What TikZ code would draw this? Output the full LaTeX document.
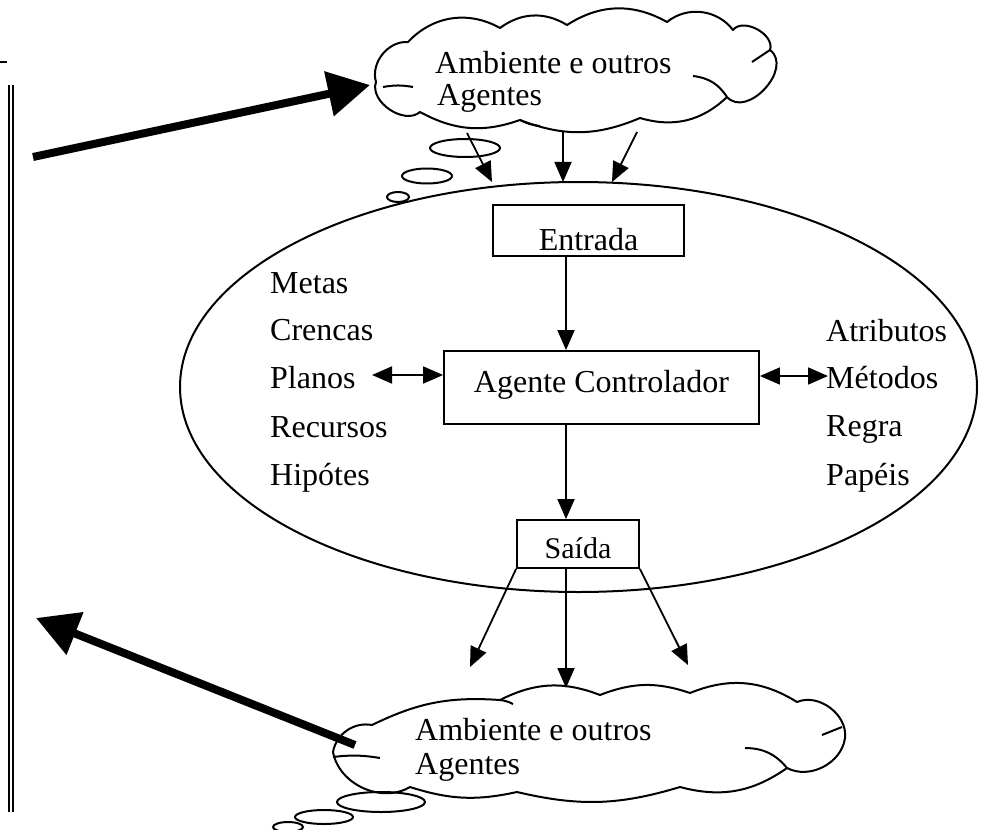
\documentclass[tikz,border=0pt]{standalone}
\usepackage{fontspec}
\setmainfont{Liberation Serif}
\usetikzlibrary{arrows.meta,shapes.geometric,calc}
\begin{document}
\begin{tikzpicture}[x=1pt,y=-1pt,
  txt/.style={anchor=base west,inner sep=0pt,font=\fontsize{32}{36}\selectfont},
  boxn/.style={draw,line width=1.8pt,inner sep=0pt,font=\fontsize{32}{36}\selectfont},
  thin/.style={line width=1.8pt,-{Triangle[length=20pt,width=17pt]}},
  both/.style={line width=1.8pt,{Triangle[length=20pt,width=17pt]}-{Triangle[length=20pt,width=17pt]}},
  big/.style={line width=8pt,-{Triangle[length=42pt,width=44pt]}},
  cloudline/.style={line width=2pt,line join=round},
  puff/.style={bend left=#1},
  bubble/.style={ellipse,draw,line width=2pt,inner sep=0pt}]
\useasboundingbox (0,0) rectangle (984,829);
\fill[white] (0,0) rectangle (984,829);

% small mark top-left and left double rule
\draw[line width=2pt] (0,62) -- (7,62);
\coordinate (rt) at (11,85);
\coordinate (rb) at (11,812);
\draw[double,double distance=2.8pt,line width=1.8pt] (rt) -- (rb);

% big ellipse
\node[ellipse,draw,line width=2pt,minimum width=797pt,minimum height=410pt,inner sep=0pt] (E) at (578.5,387) {};

% top cloud
\node[minimum width=410pt,minimum height=122pt,inner sep=0pt] (c1) at (577,70) {};
\draw[cloudline,fill=white]
  (376,82) to[puff=55] (408,42) to[puff=38] (500,28) to[puff=34] (567,25)
  to[puff=31] (667,22) to[puff=46] (733,30) to[puff=80] (770,50)
  to[puff=95,looseness=1.2] (727,97) to[puff=30] (640,118) to[puff=22] (520,120)
  to[puff=24] (420,112) to[puff=75] (376,82);
\draw[cloudline] (383,87) to[bend left=10] (413,87);
\draw[cloudline] (520,120) to[bend right=10] (540,126);
\draw[cloudline] (693,76) to[bend left=25] (727,97);
\draw[cloudline] (752,62) -- (770,50);

% bottom cloud
\node[minimum width=518pt,minimum height=115pt,inner sep=0pt] (c2) at (586,741) {};
\draw[cloudline,fill=white]
  (333,752) to[puff=45] (372,725) to[puff=15] (500,700) to[puff=24] (600,695)
  to[puff=20] (690,693) to[puff=27] (797,702) to[puff=60] (845,738)
  to[puff=55] (787,768) to[puff=25] (680,787) to[puff=15] (517,792)
  to[puff=15] (410,787) to[puff=55] (333,752);
\draw[cloudline] (333,757) to[bend left=8] (380,758);
\draw[cloudline] (500,700) to[bend left=10] (513,704);
\draw[cloudline] (745,748) to[bend left=25] (787,768);
\draw[cloudline] (822,735) -- (842,727);

\node[txt] (c1a) at (435,74) {Ambiente e outros};
\node[txt] (c1b) at (437,106) {Agentes};
\node[txt] (c2a) at (415,740) {Ambiente e outros};
\node[txt] (c2b) at (415,774) {Agentes};

% thought bubbles
\node[bubble,minimum width=70pt,minimum height=18pt] (b1) at (465,148) {};
\node[bubble,minimum width=50pt,minimum height=15pt] (b2) at (427,176) {};
\node[bubble,minimum width=22pt,minimum height=10pt] (b3) at (398,197) {};
\node[bubble,minimum width=88pt,minimum height=20pt] (b4) at (381,802) {};
\node[bubble,minimum width=58pt,minimum height=14pt] (b5) at (324,817) {};
\node[bubble,minimum width=30pt,minimum height=10pt] (b6) at (288,827) {};

% boxes
\node[boxn,minimum width=191pt,minimum height=51pt,text height=39pt,text depth=0pt] (ent) at (588.5,230.5) {Entrada};
\node[boxn,minimum width=315pt,minimum height=73pt,text height=22pt,text depth=13pt] (ag) at (601.5,387.5) {Agente Controlador};
\node[boxn,minimum width=122pt,minimum height=48pt,text height=28pt,text depth=0pt,font=\fontsize{30}{34}\selectfont] (sai) at (578,544) {Saída};

% side lists
\node[txt] (m1) at (270,293) {Metas};
\node[txt] (m2) at (270,340) {Crencas};
\node[txt] (m3) at (270,388) {Planos};
\node[txt] (m4) at (270,437) {Recursos};
\node[txt] (m5) at (270,485) {Hipótes};
\node[txt] (r1) at (826,341) {Atributos};
\node[txt] (r2) at (826,388) {Métodos};
\node[txt] (r3) at (826,436) {Regra};
\node[txt] (r4) at (826,485) {Papéis};

% arrows cloud -> ellipse
\coordinate (t1s) at (467,133); \coordinate (t1e) at (492,182);
\coordinate (t2s) at (563,132); \coordinate (t2e) at (563,182);
\coordinate (t3s) at (637,132); \coordinate (t3e) at (612,182);
\draw[thin] (t1s) -- (t1e);
\draw[thin] (t2s) -- (t2e);
\draw[thin] (t3s) -- (t3e);

% internal flow
\coordinate (ex) at (566,0);
\draw[thin] (ent.south -| ex) -- (ag.north -| ex);
\draw[thin] (ag.south -| ex) -- (sai.north -| ex);

% side double arrows
\coordinate (pl) at (372,375);
\coordinate (mt) at (828,376);
\draw[both] (pl) -- (pl -| ag.west);
\draw[both] (mt -| ag.east) -- (mt);

% saida -> cloud
\coordinate (o1) at (470,667);
\coordinate (o2) at (566,688);
\coordinate (o3) at (688,665);
\draw[thin] (sai.south west) -- (o1);
\draw[thin] (sai.south -| ex) -- (o2);
\draw[thin] (sai.south east) -- (o3);

% big arrows
\coordinate (ba1) at (33,157);
\coordinate (ba1e) at (370,85);
\coordinate (ba2) at (355,745);
\coordinate (ba2e) at (36,618);
\draw[big] (ba1) -- (ba1e);
\draw[big] (ba2) -- (ba2e);
\end{tikzpicture}
\end{document}
